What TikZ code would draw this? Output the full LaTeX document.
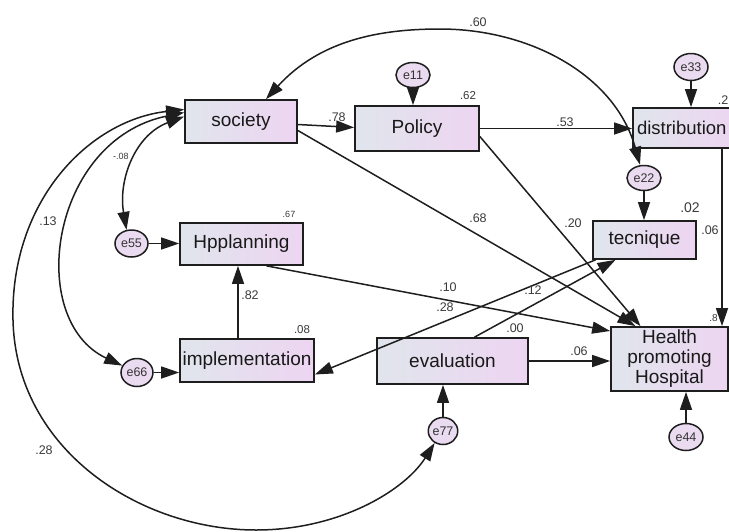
\documentclass[tikz,border=0pt]{standalone}
\usepackage{fontspec}
\setmainfont{Liberation Sans}
\usetikzlibrary{arrows.meta,shapes.geometric}
\definecolor{boxl}{HTML}{E0E5EC}
\definecolor{boxr}{HTML}{EDD5F1}
\definecolor{ell}{HTML}{EADBF0}
\definecolor{edge}{HTML}{1E1E1E}
\definecolor{lab}{HTML}{3A3A3A}
\begin{document}
\begin{tikzpicture}[x=1pt,y=-1pt,
  var/.style={draw=edge, line width=1.7pt, left color=boxl, right color=boxr, inner sep=0pt, font=\fontsize{19}{20}\selectfont, text=black!90},
  err/.style={ellipse, draw=edge, line width=1.5pt, fill=ell, inner sep=0pt, font=\fontsize{12.5}{14}\selectfont, text=black!80},
  path/.style={draw=edge, line width=1.5pt, -{Triangle[length=18pt,width=12pt]}},
  cov/.style={draw=edge, line width=1.5pt, {Triangle[length=18pt,width=12pt]}-{Triangle[length=18pt,width=12pt]}},
  lbl/.style={font=\fontsize{12.5}{14}\selectfont, text=lab, inner sep=0pt},
  slbl/.style={font=\fontsize{9}{10}\selectfont, text=lab, inner sep=0pt}]
\useasboundingbox (0,0) rectangle (729,531);
% observed variables
\node[var, minimum width=112pt, minimum height=43pt] (soc) at (241,121.5) {society};
\node[var, minimum width=124pt, minimum height=45pt] (pol) at (417,128.5) {Policy};
\node[var, minimum width=104pt, minimum height=40pt, text width=96pt, align=left, font=\fontsize{18.5}{20}\selectfont] (dis) at (685,128) {distribution};
\node[var, minimum width=103pt, minimum height=38pt] (tec) at (644.5,240) {tecnique};
\node[var, minimum width=123pt, minimum height=42pt] (hpp) at (241.5,244) {Hpplanning};
\node[var, minimum width=134pt, minimum height=43pt] (imp) at (247,360.5) {implementation};
\node[var, minimum width=151pt, minimum height=46pt] (eva) at (452.5,361) {evaluation};
\node[var, minimum width=117pt, minimum height=64pt, align=center] (hph) at (669.5,359) {Health\\promoting\\Hospital};
% error terms
\node[err, minimum width=34pt, minimum height=25pt] (e11) at (413,75) {e11};
\node[err, minimum width=34pt, minimum height=27pt] (e33) at (691,67) {e33};
\node[err, minimum width=34pt, minimum height=25pt] (e22) at (644,178) {e22};
\node[err, minimum width=33pt, minimum height=27pt] (e55) at (131.5,243.5) {e55};
\node[err, minimum width=32pt, minimum height=28pt] (e66) at (137,372.5) {e66};
\node[err, minimum width=29pt, minimum height=27pt] (e77) at (443,431) {e77};
\node[err, minimum width=34pt, minimum height=27pt] (e44) at (686,437) {e44};
% error arrows
\draw[path] (e11.south) -- (e11.south |- pol.north);
\draw[path] (e33.south) -- (e33.south |- dis.north);
\draw[path] (e22.south) -- (e22.south |- tec.north);
\draw[path] (e44.north) -- (e44.north |- hph.south);
\draw[path] (e77.north) -- (e77.north |- eva.south);
\draw[path] (e55.east) -- (e55.east -| hpp.west);
\draw[path] (e66.east) -- (e66.east -| imp.west);
% regression paths
\draw[path] ([yshift=-3pt]soc.east) -- ([yshift=1pt]pol.west);
\draw[path] (pol.east) -- (pol.east -| dis.west);
\draw[path] ([yshift=-9pt]soc.east) -- ([xshift=-34pt]hph.north);
\draw[path] ([yshift=-8pt]pol.east) -- ([xshift=-29pt]hph.north);
\draw[path] ([xshift=37pt]dis.south) -- ([xshift=37pt]dis.south |- hph.north);
\draw[path] ([xshift=25pt]hpp.south) -- ([yshift=28pt]hph.west);
\draw[path] ([xshift=-9pt]imp.north) -- ([xshift=-9pt]imp.north |- hpp.south);
\draw[path] ([xshift=-49pt]tec.south) -- ([yshift=-14pt]imp.east);
\draw[path] ([xshift=22pt]eva.north) -- ([xshift=-29pt]tec.south);
\draw[path] (eva.east) -- (eva.east -| hph.west);
% covariances
\draw[cov] ([xshift=25pt]soc.north) .. controls (320,40) and (380,29) .. (440,29) .. controls (530,29) and (615,75) .. ([xshift=-4pt]e22.north);
\draw[cov] ([yshift=12pt]soc.west) .. controls (90,120) and (10,200) .. (13,320) .. controls (16,450) and (140,530) .. (256,530) .. controls (340,530) and (405,490) .. (e77.235);
\draw[cov] ([yshift=9pt]soc.west) .. controls (50,140) and (25,320) .. (e66.155);
\draw[cov] ([yshift=5pt]soc.west) .. controls (135,135) and (118,180) .. (e55.110);
% labels
\node[lbl] (l1) at (478,22) {.60};
\node[lbl] (l2) at (337,117) {.78};
\node[lbl] (l3) at (565,122) {.53};
\node[lbl, font=\fontsize{11.5}{13}\selectfont] (l4) at (468,96) {.62};
\node[lbl] (l5) at (478,218) {.68};
\node[lbl] (l6) at (573,223) {.20};
\node[lbl, font=\fontsize{14}{16}\selectfont] (l7) at (690,208) {.02};
\node[lbl] (l8) at (710,230) {.06};
\node[slbl] (l9) at (289,214) {.67};
\node[lbl] (l10) at (250,295) {.82};
\node[lbl, font=\fontsize{11.5}{13}\selectfont] (l11) at (302,330) {.08};
\node[lbl] (l12) at (448,287) {.10};
\node[lbl] (l13) at (445,307) {.28};
\node[lbl] (l14) at (533,290) {.12};
\node[lbl] (l15) at (515,328) {.00};
\node[lbl] (l16) at (579,351) {.06};
\node[lbl] (l17) at (48,221) {.13};
\node[slbl] (l18) at (121,156) {-.08};
\node[lbl] (l19) at (44,450) {.28};
\node[lbl, anchor=east] (l20) at (728.5,100) {.2};
\node[slbl, font=\fontsize{10}{11}\selectfont, anchor=east] (l21) at (718,318) {.8};
\end{tikzpicture}
\end{document}
